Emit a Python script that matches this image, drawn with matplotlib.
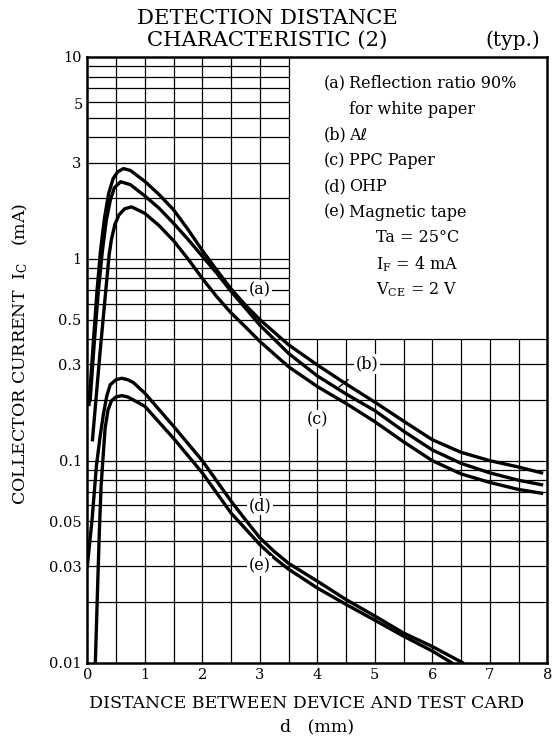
import numpy as np
import matplotlib
matplotlib.use("Agg")
import matplotlib.pyplot as plt

plt.rcParams["font.family"] = ["DejaVu Serif", "DejaVu Sans"]
plt.rcParams["mathtext.fontset"] = "dejavuserif"

# curve data (d in mm, Ic in mA)
d_a = [0.03, 0.10, 0.17, 0.23, 0.30, 0.37, 0.45, 0.53, 0.63, 0.75, 1.0, 1.25, 1.5, 1.75,
       2.0, 2.25, 2.5, 2.75, 3.0, 3.5, 4.0, 4.5, 5.0, 5.5, 6.0, 6.5, 7.0, 7.5, 7.9]
ic_a = [0.19, 0.37, 0.70, 1.10, 1.60, 2.10, 2.50, 2.70, 2.80, 2.74, 2.42, 2.08, 1.75, 1.40,
        1.10, 0.88, 0.71, 0.59, 0.50, 0.375, 0.298, 0.240, 0.195, 0.157, 0.127, 0.110, 0.100, 0.093, 0.087]

d_b = [0.05, 0.12, 0.19, 0.26, 0.33, 0.40, 0.47, 0.58, 0.75, 1.0, 1.25, 1.5, 1.75, 2.0,
       2.25, 2.5, 2.75, 3.0, 3.5, 4.0, 4.5, 5.0, 5.5, 6.0, 6.5, 7.0, 7.5, 7.9]
ic_b = [0.20, 0.38, 0.68, 1.08, 1.55, 1.95, 2.25, 2.41, 2.33, 2.05, 1.78, 1.50, 1.25, 1.03,
        0.85, 0.69, 0.57, 0.47, 0.34, 0.263, 0.214, 0.177, 0.140, 0.113, 0.097, 0.087, 0.080, 0.076]

d_c = [0.09, 0.15, 0.22, 0.30, 0.38, 0.42, 0.48, 0.55, 0.65, 0.77, 1.0, 1.25, 1.5, 1.75, 2.0,
       2.25, 2.5, 2.75, 3.0, 3.5, 4.0, 4.5, 5.0, 5.5, 6.0, 6.5, 7.0, 7.5, 7.9]
ic_c = [0.127, 0.20, 0.34, 0.60, 1.05, 1.25, 1.48, 1.65, 1.77, 1.81, 1.68, 1.46, 1.23, 1.00, 0.80,
        0.65, 0.54, 0.46, 0.39, 0.292, 0.233, 0.192, 0.156, 0.124, 0.100, 0.086, 0.078, 0.072, 0.069]

d_d = [0.0, 0.08, 0.16, 0.22, 0.28, 0.34, 0.40, 0.50, 0.60, 0.70, 0.80, 1.0, 1.5, 2.0, 2.5, 2.75,
       3.0, 3.25, 3.5, 4.0, 4.5, 5.0, 5.5, 6.0, 6.52]
ic_d = [0.030, 0.050, 0.095, 0.13, 0.17, 0.21, 0.238, 0.252, 0.256, 0.252, 0.244, 0.216, 0.148, 0.100,
        0.063, 0.051, 0.0415, 0.0355, 0.031, 0.0253, 0.0205, 0.0170, 0.0140, 0.0120, 0.0100]

d_e = [0.14, 0.18, 0.21, 0.24, 0.27, 0.31, 0.36, 0.42, 0.50, 0.60, 0.70, 0.80, 1.0, 1.5, 2.0, 2.5,
       2.75, 3.0, 3.25, 3.5, 4.0, 4.5, 5.0, 5.5, 6.0, 6.33]
ic_e = [0.010, 0.024, 0.045, 0.075, 0.10, 0.145, 0.178, 0.198, 0.207, 0.210, 0.207, 0.200, 0.186, 0.129,
        0.087, 0.055, 0.046, 0.0384, 0.0330, 0.0290, 0.0234, 0.0194, 0.0162, 0.0135, 0.0114, 0.0100]

x_ticks = [0, 1, 2, 3, 4, 5, 6, 7, 8]
y_ticks = [0.01, 0.03, 0.05, 0.1, 0.3, 0.5, 1, 3, 5, 10]
y_tick_labels = ["0.01", "0.03", "0.05", "0.1", "0.3", "0.5", "1", "3", "5", "10"]

legend_rows = [("(a)", "Reflection ratio 90%"), ("", "for white paper"), ("(b)", "A\u2113"),
               ("(c)", "PPC Paper"), ("(d)", "OHP"), ("(e)", "Magnetic tape")]
conditions = ["Ta = 25\u00b0C", "I$_\\mathrm{F}$ = 4 mA", "V$_\\mathrm{CE}$ = 2 V"]

W, H = 553, 738


def fx(px):
    return px / W


def fy(py):
    return 1 - py / H


fig = plt.figure(figsize=(W / 100, H / 100), dpi=100)
ax = fig.add_axes([fx(87.3), fy(662.5), fx(547.3) - fx(87.3), fy(57) - fy(662.5)])
ax.set_yscale("log")
ax.set_xlim(0, 8)
ax.set_ylim(0.01, 10)

# graph paper grid, blank in the upper right where the notes sit
box_x, box_y = 3.5, 0.4
for x in np.arange(0.5, 8, 0.5):
    ax.vlines(x, 0.01, 10 if x <= box_x else box_y, color="black", lw=0.9, zorder=1)
for e in (-2, -1, 0):
    for k in range(1, 10):
        y = k * 10.0 ** e
        if y <= 0.01:
            continue
        ax.hlines(y, 0, box_x if y > box_y + 1e-9 else 8, color="black", lw=0.9, zorder=1)

for dx, iy in [(d_a, ic_a), (d_b, ic_b), (d_c, ic_c), (d_d, ic_d), (d_e, ic_e)]:
    ax.plot(dx, iy, color="black", lw=2.4, solid_joinstyle="round", zorder=3)

lbl = dict(ha="center", va="center", fontsize=11.5,
           bbox=dict(facecolor="white", edgecolor="none", pad=1.0), zorder=4)
ax.text(3.0, 0.70, "(a)", **lbl)
ax.annotate("(b)", xy=(4.38, 0.232), xytext=(4.86, 0.30),
            arrowprops=dict(arrowstyle="-", lw=1.0, color="black", shrinkA=6, shrinkB=0), **lbl)
ax.text(4.0, 0.16, "(c)", **lbl)
ax.text(3.0, 0.06, "(d)", **lbl)
ax.text(3.0, 0.03, "(e)", **lbl)

for s in ax.spines.values():
    s.set_linewidth(1.8)
ax.set_xticks(x_ticks)
ax.set_xticklabels([str(v) for v in x_ticks])
ax.set_yticks(y_ticks)
ax.set_yticklabels([("" if t == "5" else t) for t in y_tick_labels])
ax.yaxis.set_minor_locator(matplotlib.ticker.NullLocator())
ax.tick_params(length=0, labelsize=10.5, pad=4)
# the "5" sits a bit high on the original sheet
ax.annotate("5", xy=(0, 5), xytext=(-3, 10.5), textcoords="offset points",
            ha="right", va="center_baseline", fontsize=10.5, annotation_clip=False)

# notes box
for i, (tag, txt) in enumerate(legend_rows):
    y = 81.7 + i * 25.7
    if tag:
        fig.text(fx(323.5), fy(y), tag, ha="left", va="center_baseline", fontsize=11.5)
    fig.text(fx(349), fy(y), txt, ha="left", va="center_baseline", fontsize=11.5)
for i, txt in enumerate(conditions):
    fig.text(fx(376), fy(236 + i * 25.7), txt, ha="left", va="center_baseline", fontsize=11.5)

fig.text(fx(267), fy(18), "DETECTION DISTANCE", ha="center", va="center", fontsize=15.2)
fig.text(fx(267), fy(40), "CHARACTERISTIC (2)", ha="center", va="center", fontsize=15.2)
fig.text(fx(513), fy(40), "(typ.)", ha="center", va="center", fontsize=14.5)

fig.text(fx(307), fy(703), "DISTANCE BETWEEN DEVICE AND TEST CARD", ha="center", va="center", fontsize=12.5)
fig.text(fx(317), fy(727), "d   (mm)", ha="center", va="center", fontsize=12.5)
fig.text(fx(20), fy(354), "COLLECTOR CURRENT  I$_\\mathrm{C}$   (mA)", rotation=90,
         ha="center", va="center", fontsize=12.5)

fig.savefig("out.png", dpi=100)
